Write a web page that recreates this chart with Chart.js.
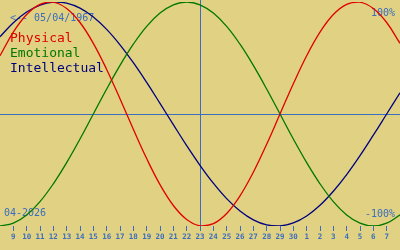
<!DOCTYPE html>
<html>
<head>
<meta charset="utf-8">
<script src="https://cdn.jsdelivr.net/npm/chart.js@4"></script>
<style>
  html, body { margin: 0; padding: 0; background: #e0d282; }
  #wrap { width: 400px; height: 250px; }
</style>
</head>
<body>
<div id="wrap"><canvas id="c" width="400" height="250"></canvas></div>
<script>
// Day positions (day of April 2026; 31.. = May)
const days = [8,9,10,11,12,13,14,15,16,17,18,19,20,21,22,23,24,25,26,27,28,29,30,31,32,33,34,35,36,37,38];
const physical = [52.0,73.1,88.8,97.9,99.8,94.2,81.7,63.1,39.8,13.6,-13.6,-39.8,-63.1,-81.7,-94.2,-99.8,-97.9,-88.8,-73.1,-52.0,-27.0,0,27.0,52.0,73.1,88.8,97.9,99.8,94.2,81.7,63.1];
const emotional = [-100,-97.5,-90.1,-78.2,-62.3,-43.4,-22.3,0,22.3,43.4,62.3,78.2,90.1,97.5,100,97.5,90.1,78.2,62.3,43.4,22.3,0,-22.3,-43.4,-62.3,-78.2,-90.1,-97.5,-100,-97.5,-90.1];
const intellectual = [69.0,81.5,91.0,97.2,99.9,99.0,94.5,86.6,75.6,61.8,45.8,28.2,9.5,-9.5,-28.2,-45.8,-61.8,-75.6,-86.6,-94.5,-99.0,-99.9,-97.2,-91.0,-81.5,-69.0,-54.1,-37.2,-18.9,0,18.9];

const tickDays = [9,10,11,12,13,14,15,16,17,18,19,20,21,22,23,24,25,26,27,28,29,30,31,32,33,34,35,36,37];
const tickLabels = ['9','10','11','12','13','14','15','16','17','18','19','20','21','22','23','24','25','26','27','28','29','30','1','2','3','4','5','6','7'];

const seriesNames = ['Physical','Emotional','Intellectual'];
const todayDay = 23;
const birthText = '<-- 05/04/1967';
const monthText = '04-2026';
const maxText = '100%';
const minText = '-100%';

const BLUE = '#3a6cc0';
const COLORS = ['#e00000','#007800','#000080'];
const MONO = '"DejaVu Sans Mono", "Liberation Mono", monospace';

const overlay = {
  id: 'overlay',
  beforeDatasetsDraw(chart) {
    const ctx = chart.ctx, x = chart.scales.x, y = chart.scales.y, a = chart.chartArea;
    ctx.save();
    ctx.strokeStyle = BLUE;
    ctx.lineWidth = 1;
    const y0 = Math.round(y.getPixelForValue(0)) + 0.5;
    ctx.beginPath(); ctx.moveTo(0, y0); ctx.lineTo(chart.width, y0); ctx.stroke();
    const xt = Math.round(x.getPixelForValue(todayDay)) + 0.5;
    ctx.beginPath(); ctx.moveTo(xt, 0); ctx.lineTo(xt, a.bottom); ctx.stroke();

    ctx.textBaseline = 'alphabetic';
    ctx.fillStyle = BLUE;
    ctx.font = '10px ' + MONO;
    ctx.textAlign = 'left';
    ctx.fillText(birthText, 10, 21);
    ctx.fillText(monthText, 4, 216);
    ctx.textAlign = 'right';
    ctx.fillText(maxText, 395, 16);
    ctx.fillText(minText, 395, 217);

    ctx.textAlign = 'left';
    ctx.font = '13px ' + MONO;
    chart.data.datasets.forEach((ds, i) => {
      ctx.fillStyle = ds.borderColor;
      ctx.fillText(ds.label, 10, 42 + i * 15);
    });
    ctx.restore();
  }
};

const mk = (arr) => days.map((d, i) => ({ x: d, y: arr[i] }));

new Chart(document.getElementById('c'), {
  type: 'line',
  data: {
    datasets: [
      { label: seriesNames[0], data: mk(physical), borderColor: COLORS[0] },
      { label: seriesNames[1], data: mk(emotional), borderColor: COLORS[1] },
      { label: seriesNames[2], data: mk(intellectual), borderColor: COLORS[2] }
    ].map(d => Object.assign(d, { borderWidth: 1.3, pointRadius: 0, tension: 0.4, fill: false }))
  },
  options: {
    responsive: false,
    animation: false,
    devicePixelRatio: 1,
    layout: { padding: { top: 2, left: 0, right: 0, bottom: 0 } },
    plugins: { legend: { display: false }, tooltip: { enabled: false } },
    scales: {
      x: {
        type: 'linear',
        min: 8, max: 38,
        afterBuildTicks: (s) => { s.ticks = tickDays.map(v => ({ value: v })); },
        afterFit: (s) => { s.height = 24; s.paddingLeft = 0; s.paddingRight = 0; },
        grid: { display: true, drawOnChartArea: false, drawTicks: true, tickLength: 5, color: BLUE, lineWidth: 1 },
        border: { display: false },
        ticks: {
          autoSkip: false, maxRotation: 0, minRotation: 0, padding: 2,
          color: BLUE,
          font: { family: MONO, size: 7.5, weight: 'bold' },
          callback: (v, i) => tickLabels[i]
        }
      },
      y: { display: false, min: -100, max: 100 }
    }
  },
  plugins: [overlay]
});
</script>
</body>
</html>
